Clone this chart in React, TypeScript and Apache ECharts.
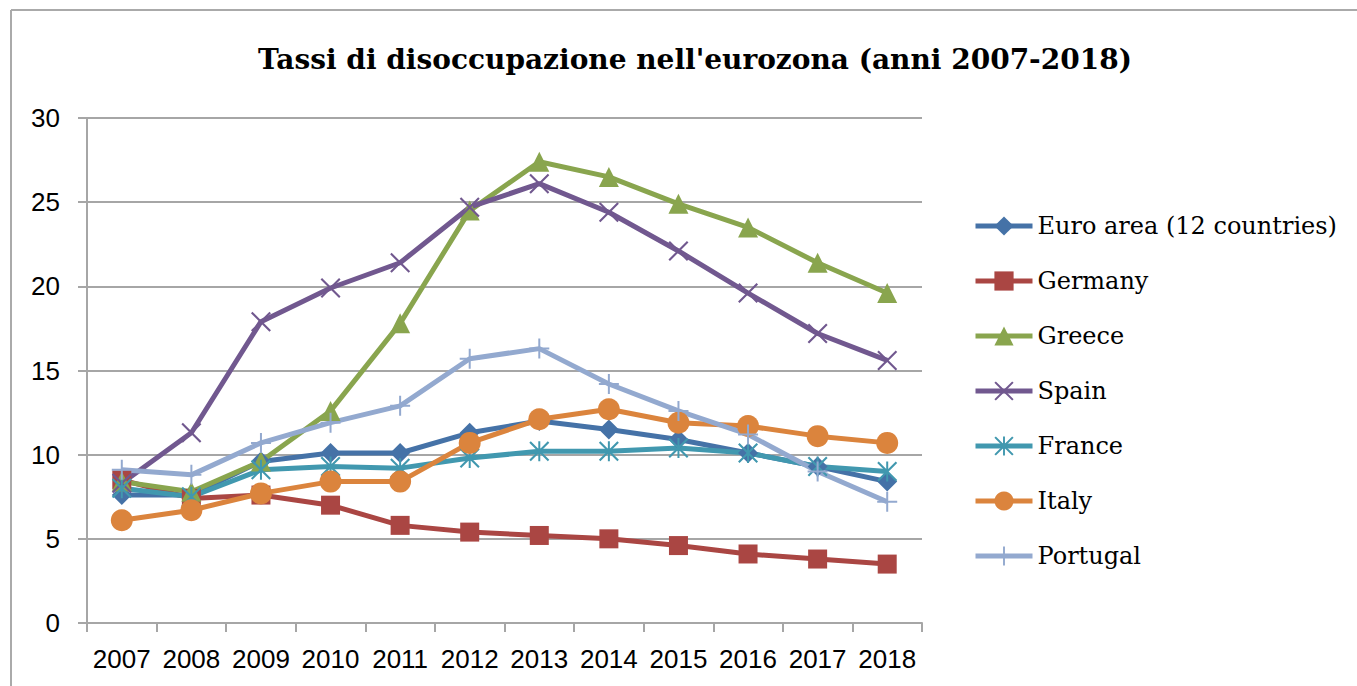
import React, { useEffect, useRef } from "react";
import * as echarts from "echarts";

const years = ["2007", "2008", "2009", "2010", "2011", "2012", "2013", "2014", "2015", "2016", "2017", "2018"];
const seriesNames = ["Euro area (12 countries)", "Germany", "Greece", "Spain", "France", "Italy", "Portugal"];
const euroArea = [7.6, 7.6, 9.6, 10.1, 10.1, 11.3, 12.0, 11.5, 10.9, 10.1, 9.3, 8.4];
const germany = [8.5, 7.4, 7.6, 7.0, 5.8, 5.4, 5.2, 5.0, 4.6, 4.1, 3.8, 3.5];
const greece = [8.4, 7.8, 9.6, 12.6, 17.8, 24.5, 27.4, 26.5, 24.9, 23.5, 21.4, 19.6];
const spain = [8.3, 11.3, 17.9, 19.9, 21.4, 24.7, 26.1, 24.4, 22.1, 19.6, 17.2, 15.6];
const france = [8.0, 7.5, 9.1, 9.3, 9.2, 9.8, 10.2, 10.2, 10.4, 10.1, 9.3, 9.0];
const italy = [6.1, 6.7, 7.7, 8.4, 8.4, 10.7, 12.1, 12.7, 11.9, 11.7, 11.1, 10.7];
const portugal = [9.1, 8.8, 10.7, 11.9, 12.9, 15.7, 16.3, 14.2, 12.6, 11.2, 9.0, 7.2];
const yTicks = { min: 0, max: 30, interval: 5 };
const title = "Tassi di disoccupazione nell'eurozona (anni 2007-2018)";

const colors = ["#4572A7", "#AA4643", "#89A54E", "#71588F", "#4198AF", "#DB843D", "#93A9CF"];
const X_PATH = "path://M0,1.5 L1.5,0 L10,8.5 L18.5,0 L20,1.5 L11.5,10 L20,18.5 L18.5,20 L10,11.5 L1.5,20 L0,18.5 L8.5,10 Z";
const PLUS_PATH = "path://M9,0 L11,0 L11,9 L20,9 L20,11 L11,11 L11,20 L9,20 L9,11 L0,11 L0,9 L9,9 Z";
const STAR_PATH = "path://M0,1.5 L1.5,0 L10,8.5 L18.5,0 L20,1.5 L11.5,10 L20,18.5 L18.5,20 L10,11.5 L1.5,20 L0,18.5 L8.5,10 Z M9,0 L11,0 L11,20 L9,20 Z";
const symbols = ["diamond", "rect", "triangle", X_PATH, STAR_PATH, "circle", PLUS_PATH];
const symbolSizes = [20, 19, 20, 20, 20, 22, 20];
const dataSets = [euroArea, germany, greece, spain, france, italy, portugal];

export default function App() {
  const ref = useRef<HTMLDivElement>(null);
  useEffect(() => {
    if (!ref.current) return;
    const chart = echarts.init(ref.current, undefined, { renderer: "svg" });
    const gray = "#a6a6a6";
    chart.setOption({
      animation: false,
      backgroundColor: "#ffffff",
      color: colors,
      title: {
        text: title,
        left: 690,
        top: 40,
        textAlign: "center",
        textStyle: { fontFamily: "DejaVu Serif", fontWeight: "bold", fontSize: 28, color: "#000" },
      },
      graphic: [
        { type: "line", shape: { x1: 11, y1: 10, x2: 1357, y2: 10 }, style: { stroke: "#aaaaaa", lineWidth: 2 } },
        { type: "line", shape: { x1: 11, y1: 10, x2: 11, y2: 686 }, style: { stroke: "#aaaaaa", lineWidth: 2 } },
      ],
      legend: {
        orient: "vertical",
        left: 968,
        top: 206,
        itemWidth: 57,
        itemHeight: 24,
        itemGap: 25,
        data: seriesNames,
        lineStyle: { width: 5 },
        textStyle: { fontFamily: "DejaVu Serif", fontSize: 24, color: "#000", lineHeight: 30 },
      },
      grid: { left: 87, top: 118, width: 835, height: 505, containLabel: false },
      xAxis: {
        type: "category",
        data: years,
        boundaryGap: true,
        axisLine: { lineStyle: { color: gray, width: 2 } },
        axisTick: { show: true, length: 9, interval: 0, lineStyle: { color: gray, width: 2 } },
        axisLabel: { fontFamily: "Liberation Sans", fontSize: 26, color: "#000", margin: 23, interval: 0 },
      },
      yAxis: {
        type: "value",
        min: yTicks.min,
        max: yTicks.max,
        interval: yTicks.interval,
        axisLine: { show: true, lineStyle: { color: gray, width: 2 } },
        axisTick: { show: true, length: 9, lineStyle: { color: gray, width: 2 } },
        splitLine: { show: true, lineStyle: { color: gray, width: 2 } },
        axisLabel: { fontFamily: "Liberation Sans", fontSize: 26, color: "#000", margin: 27 },
      },
      series: seriesNames.map((name, i) => ({
        name,
        type: "line",
        data: dataSets[i],
        symbol: symbols[i],
        symbolSize: symbolSizes[i],
        showAllSymbol: true,
        lineStyle: { width: 5, color: colors[i] },
        itemStyle: { color: colors[i], borderWidth: 0 },
        emphasis: { disabled: true },
      })),
    });
    return () => chart.dispose();
  }, []);
  return <div ref={ref} style={{ position: "fixed", left: 0, top: 0, width: 1357, height: 686 }} />;
}
